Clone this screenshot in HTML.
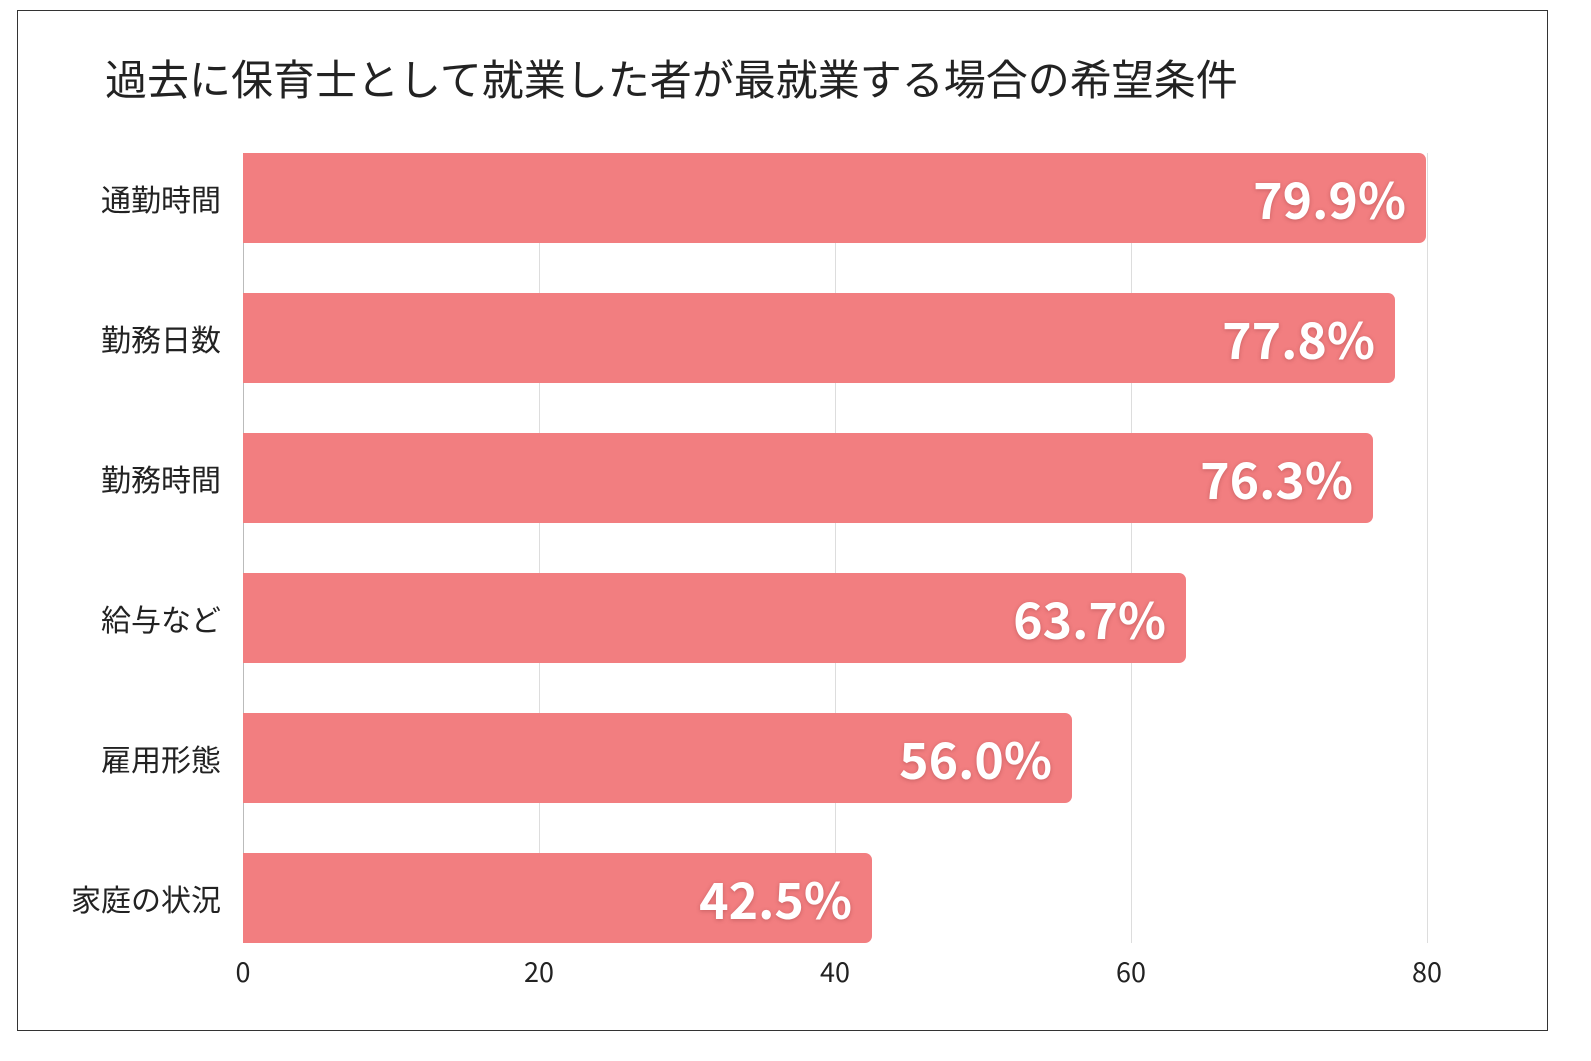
<!DOCTYPE html>
<html><head><meta charset="utf-8"><style>
html,body{margin:0;padding:0}
body{width:1591px;height:1061px;background:#fff;position:relative;font-family:"Noto Sans CJK JP","Liberation Sans",sans-serif;overflow:hidden}
.box{position:absolute;left:17px;top:10px;width:1529px;height:1019px;border:1px solid #333}
.t{position:absolute;left:105px;top:52px;font-size:42px;line-height:52px;color:#222;white-space:nowrap}
.g{position:absolute;top:153px;height:790px;width:1px;background:#ddd}
.bar{position:absolute;left:243px;height:90px;background:#f27e80;border-radius:0 7px 7px 0}
.v{position:absolute;right:20px;top:0;line-height:90px;font-size:50px;font-weight:bold;color:#fff;text-shadow:0 1px 4px rgba(120,40,40,.35)}
.c{position:absolute;right:1370px;font-size:30px;color:#222;line-height:90px;white-space:nowrap}
.x{position:absolute;top:953px;font-size:27px;line-height:36px;color:#222;width:60px;text-align:center}
</style></head><body>
<div class="box"></div>
<div class="t">過去に保育士として就業した者が最就業する場合の希望条件</div>
<div class="g" style="left:243px;background:#bbb"></div>
<div class="g" style="left:539px"></div>
<div class="g" style="left:835px"></div>
<div class="g" style="left:1131px"></div>
<div class="g" style="left:1427px"></div>
<div class="bar" style="top:153px;width:1183px"><span class="v">79.9%</span></div>
<div class="bar" style="top:293px;width:1152px"><span class="v">77.8%</span></div>
<div class="bar" style="top:433px;width:1130px"><span class="v">76.3%</span></div>
<div class="bar" style="top:573px;width:943px"><span class="v">63.7%</span></div>
<div class="bar" style="top:713px;width:829px"><span class="v">56.0%</span></div>
<div class="bar" style="top:853px;width:629px"><span class="v">42.5%</span></div>
<div class="c" style="top:153px">通勤時間</div>
<div class="c" style="top:293px">勤務日数</div>
<div class="c" style="top:433px">勤務時間</div>
<div class="c" style="top:573px">給与など</div>
<div class="c" style="top:713px">雇用形態</div>
<div class="c" style="top:853px">家庭の状況</div>
<div class="x" style="left:213px">0</div>
<div class="x" style="left:509px">20</div>
<div class="x" style="left:805px">40</div>
<div class="x" style="left:1101px">60</div>
<div class="x" style="left:1397px">80</div>
</body></html>
